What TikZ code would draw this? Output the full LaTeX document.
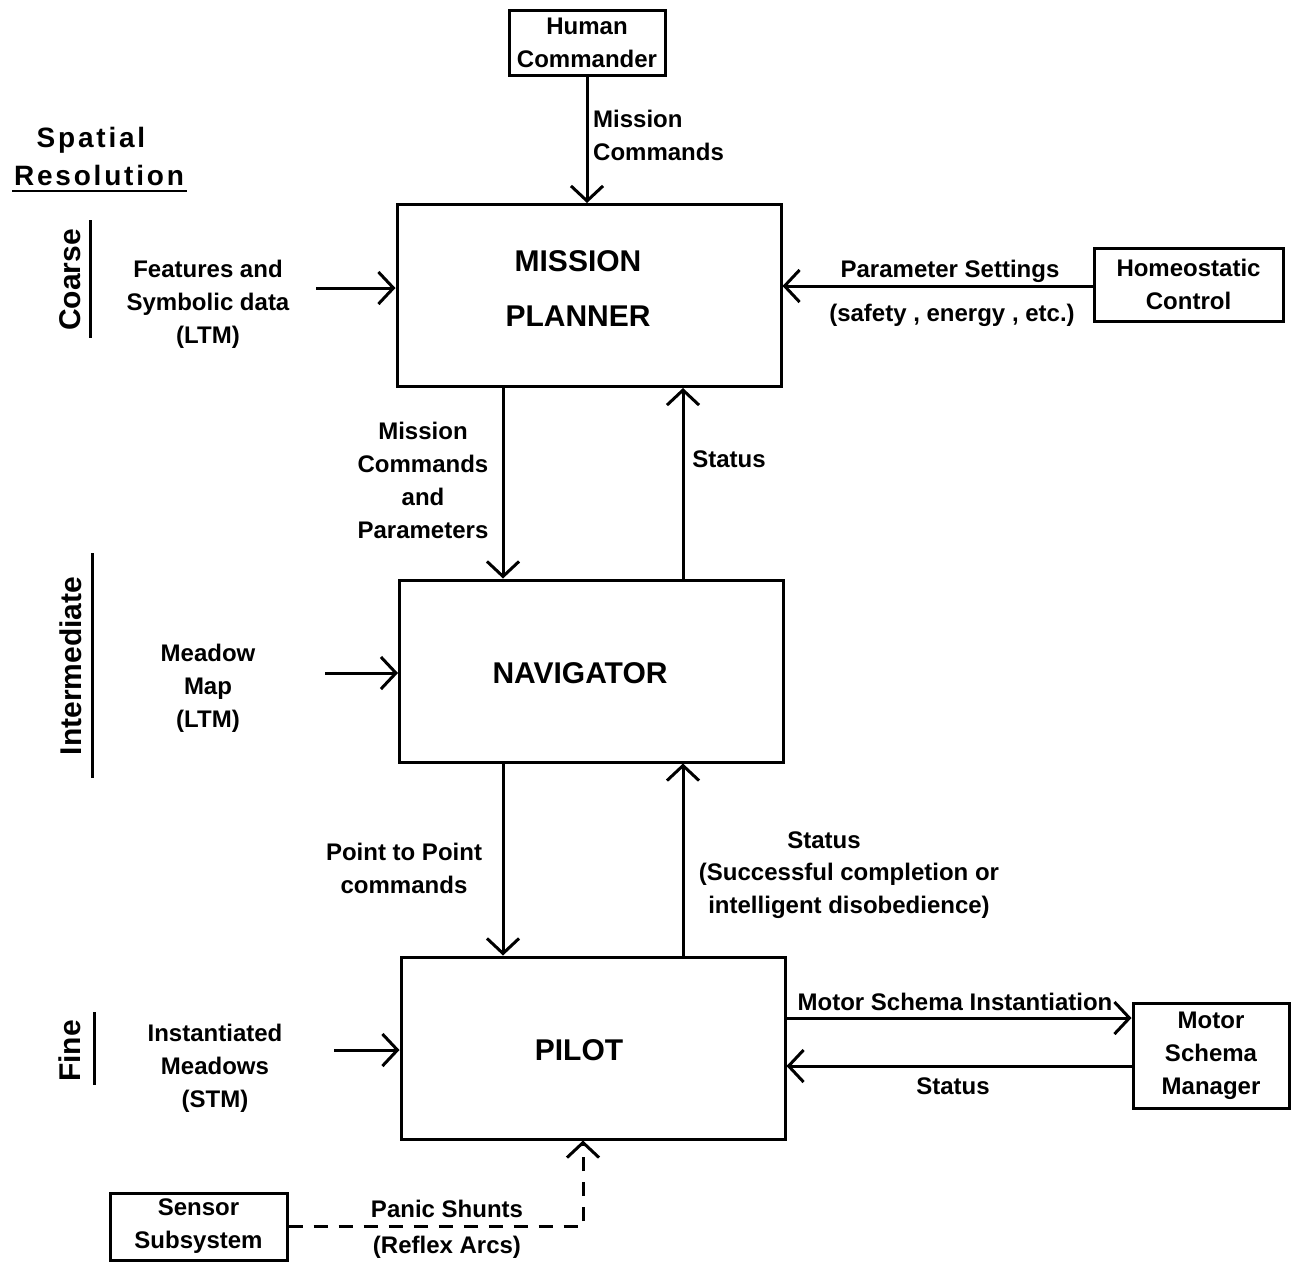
\documentclass[tikz,border=0pt]{standalone}
\usepackage{fontspec}
\setmainfont{Liberation Sans}
\newfontfamily\spacedfont{Liberation Sans}[LetterSpace=10]
\usetikzlibrary{arrows.meta}
\begin{document}
\begin{tikzpicture}[x=1pt,y=-1pt,
  lbl/.style={font=\fontsize{24}{33}\selectfont\bfseries, align=center, inner sep=0pt},
  box/.style={draw, line width=3pt, inner sep=0pt, align=center, font=\fontsize{24}{33}\selectfont\bfseries},
  bigbox/.style={draw, line width=3pt, inner sep=0pt, minimum width=384pt, minimum height=182pt},
  title/.style={font=\fontsize{30}{36}\selectfont\bfseries, inner sep=0pt},
  side/.style={rotate=90, font=\fontsize{30}{36}\selectfont\bfseries, inner sep=0pt},
  rule/.style={line width=3pt},
  arr/.style={line width=3pt, -{Straight Barb[length=15pt,width=32pt,line width=3pt]}},
  darr/.style={line width=3pt, dash pattern=on 14pt off 11pt, -{Straight Barb[length=15pt,width=32pt,line width=3pt]}}
]
\useasboundingbox (0,0) rectangle (1297,1262);

% main boxes
\node[bigbox] (mp) at (589,295.5) {};
\node[bigbox] (nav) at (591.5,671) {};
\node[bigbox] (pil) at (593,1048) {};
\node[title] (mpt1) at (578,261) {MISSION};
\node[title] (mpt2) at (578,316) {PLANNER};
\node[title] (navt) at (580,673) {NAVIGATOR};
\node[title] (pilt) at (579,1050) {PILOT};

% side boxes
\node[box, minimum width=156pt, minimum height=65pt] (hc) at (587,42.5) {Human\\Commander};
\node[box, minimum width=189pt, minimum height=73pt] (ho) at (1188.5,284.5) {Homeostatic\\Control};
\node[box, minimum width=156pt, minimum height=105pt] (msm) at (1211,1055.5) {Motor\\Schema\\Manager};
\node[box, minimum width=177pt, minimum height=67pt] (sen) at (198.5,1226.5) {Sensor\\Subsystem};

% left header
\node[font=\fontsize{28}{34}\selectfont\bfseries\spacedfont, inner sep=0pt] (spa) at (91,140) {Spatial};
\node[font=\fontsize{28}{34}\selectfont\bfseries\spacedfont, inner sep=0pt, anchor=base] (res) at (99,185) {Resolution};
\coordinate (ul1) at (12,191);
\coordinate (ul2) at (187,191);
\draw[line width=2.5pt] (ul1) -- (ul2);

\node[side] (coarse) at (70,280) {Coarse};
\coordinate (cl1) at (90,220); \coordinate (cl2) at (90,338);
\draw[rule] (cl1) -- (cl2);
\node[side] (inter) at (71,666) {Intermediate};
\coordinate (il1) at (92,553); \coordinate (il2) at (92,778);
\draw[rule] (il1) -- (il2);
\node[side] (fine) at (70,1051) {Fine};
\coordinate (fl1) at (94,1012); \coordinate (fl2) at (94,1085);
\draw[rule] (fl1) -- (fl2);

% input labels
\node[lbl] (feat) at (208,304) {Features and\\Symbolic data\\(LTM)};
\node[lbl] (mead) at (208,688) {Meadow\\Map\\(LTM)};
\node[lbl] (inst) at (215,1068) {Instantiated\\Meadows\\(STM)};
\coordinate (fs) at (316,288);
\coordinate (ms) at (325,673);
\coordinate (is) at (334,1050);
\draw[arr] (fs) -- (fs -| mp.west);
\draw[arr] (ms) -- (ms -| nav.west);
\draw[arr] (is) -- (is -| pil.west);

% human commander
\draw[arr] (hc.south) -- (hc.south |- mp.north);
\node[lbl, anchor=west, align=left] (mc) at (593,135) {Mission\\Commands};

% homeostatic
\coordinate (hy) at (0,286);
\draw[arr] (ho.west |- hy) -- (mp.east |- hy);
\node[lbl] (ps) at (950,271) {Parameter Settings};
\node[lbl] (saf) at (952,315) {(safety , energy , etc.)};

% vertical connectors
\coordinate (xl) at (503,0);
\coordinate (xr) at (683,0);
\draw[arr] (mp.south -| xl) -- (nav.north -| xl);
\draw[arr] (nav.north -| xr) -- (mp.south -| xr);
\draw[arr] (nav.south -| xl) -- (pil.north -| xl);
\draw[arr] (pil.north -| xr) -- (nav.south -| xr);
\node[lbl] (mcp) at (423,480) {Mission\\Commands\\and\\Parameters};
\node[lbl] (st1) at (729,459) {Status};
\node[lbl] (ptp) at (404,868) {Point to Point\\commands};
\node[lbl] (st2) at (824,840) {Status};
\node[lbl] (succ) at (849,891) {(Successful completion or\\intelligent disobedience)};

% motor schema
\coordinate (my1) at (0,1018);
\coordinate (my2) at (0,1066);
\draw[arr] (pil.east |- my1) -- (msm.west |- my1);
\draw[arr] (msm.west |- my2) -- (pil.east |- my2);
\node[lbl] (msi) at (955,1002) {Motor Schema Instantiation};
\node[lbl] (st3) at (953,1086) {Status};

% sensor dashed
\coordinate (xd) at (583,0);
\draw[darr] (sen.east) -| (pil.south -| xd);
\node[lbl] (pan) at (447,1209) {Panic Shunts};
\node[lbl] (ref) at (447,1247) {(Reflex Arcs)};
\end{tikzpicture}
\end{document}
